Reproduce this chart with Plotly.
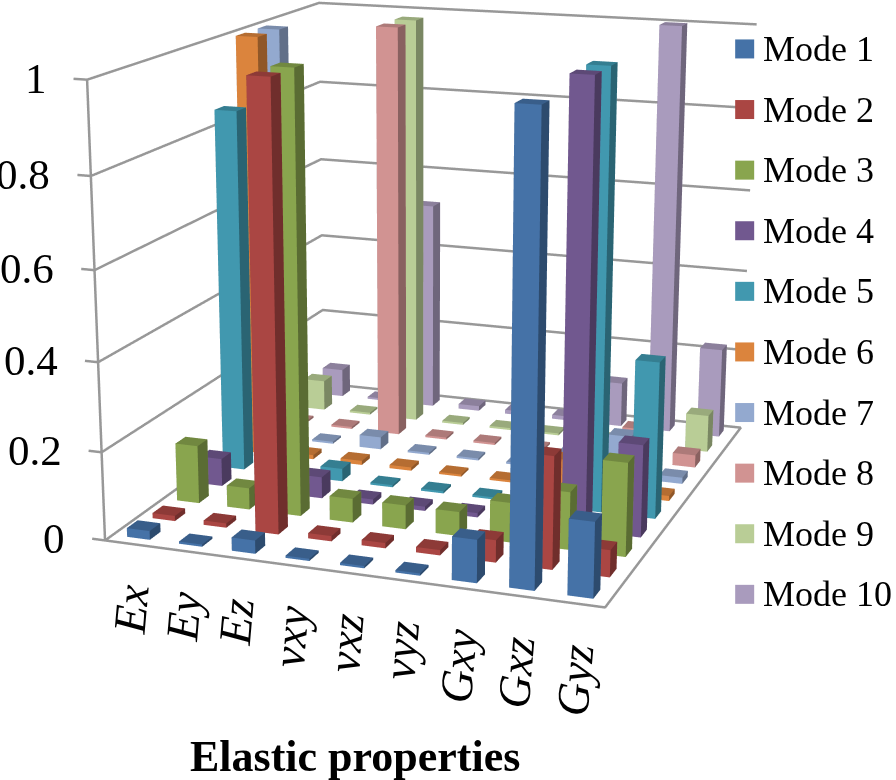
import plotly.graph_objects as go

categories = ["Ex", "Ey", "Ez", "νxy", "νxz", "νyz", "Gxy", "Gxz", "Gyz"]
z_ticks = [0, 0.2, 0.4, 0.6, 0.8, 1]
z_labels = ["0", "0.2", "0.4", "0.6", "0.8", "1"]
modes = ["Mode %d" % i for i in range(1, 11)]
colors = ["#4572A7", "#AA4643", "#89A54E", "#71588F", "#4198AF", "#DB843D", "#93A9CF", "#D19392", "#B9CD96", "#A99BBD"]
mode1 = [.02, .005, .03, .005, .005, .005, .095, 1.0, .165]
mode2 = [.012, .01, 1.0, .012, .012, .012, .05, .25, .06]
mode3 = [.135, .05, 1.0, .055, .055, .055, .09, .13, .21]
mode4 = [.065, .01, .05, .012, .01, .01, .03, 1.0, .21]
mode5 = [.85, .01, .03, .005, .005, .005, .01, 1.0, .36]
mode6 = [1.0, .01, .01, .008, .005, .005, .07, .02, .012]
mode7 = [1.0, .005, .03, .005, .005, .005, .04, .1, .015]
mode8 = [.005, .005, 1.0, .005, .005, .005, .01, .08, .03]
mode9 = [.075, .005, 1.0, .005, .005, .005, .005, .01, .09]
mode10 = [.07, .005, .52, .012, .01, .01, .11, 1.0, .22]
values = [mode1, mode2, mode3, mode4, mode5, mode6, mode7, mode8, mode9, mode10]

ASPECT = (0.955, 1.068, 0.856)
EYE = (1.460, -4.179, 1.106)
CENTER = (0.007, -0.171, -0.113)
PRINCIPAL = (418.821, 350.063)
S = 1954
LEFT, TOP = S/2 - PRINCIPAL[0], S/2 - PRINCIPAL[1]
def xp(v): return (v + LEFT)/S
def yp(v): return 1 - (v + TOP)/S

bar_x, bar_y = 0.44, 0.42
def shade(hex_color, k):
    r, g, b = [int(hex_color[i:i+2], 16) for i in (1, 3, 5)]
    return "rgb(%d,%d,%d)" % (r*k, g*k, b*k)

fig = go.Figure()
faces = [((0,1,5),1.0),((0,5,4),1.0),((1,2,6),.66),((1,6,5),.66),((4,5,6),.83),((4,6,7),.83),((3,0,4),.8),((3,4,7),.8),((2,3,7),.8),((2,7,6),.8)]
for m, (name, col, vals) in enumerate(zip(modes, colors, values)):
    X, Y, Z, I, J, K, FC = [], [], [], [], [], [], []
    for c, v in enumerate(vals):
        x0, x1 = c+.5-bar_x/2, c+.5+bar_x/2
        y0, y1 = m+.5-bar_y/2, m+.5+bar_y/2
        n0 = len(X)
        X += [x0, x1, x1, x0, x0, x1, x1, x0]
        Y += [y0, y0, y1, y1, y0, y0, y1, y1]
        Z += [0, 0, 0, 0, v, v, v, v]
        for (a,b,d),k in faces:
            I.append(n0+a); J.append(n0+b); K.append(n0+d); FC.append(shade(col,k))
    fig.add_trace(go.Mesh3d(x=X,y=Y,z=Z,i=I,j=J,k=K,facecolor=FC,flatshading=True,name=name,showlegend=False,
        lighting=dict(ambient=1,diffuse=0,specular=0,fresnel=0,roughness=1),hoverinfo="skip"))

nx, ny = len(categories), len(modes)
lx, ly, lz = [], [], []
for t in z_ticks:
    lx += [-.25, 0, 0, nx, None]; ly += [0, 0, ny, ny, None]; lz += [t, t, t, t, None]
lx += [0, 0, None, 0, nx, nx, 0, 0]; ly += [0, 0, None, 0, 0, ny, ny, 0]; lz += [0, 1, None, 0, 0, 0, 0, 0]
fig.add_trace(go.Scatter3d(x=lx,y=ly,z=lz,mode="lines",line=dict(color="#989898",width=5),showlegend=False,hoverinfo="skip"))

ax = dict(visible=False, showgrid=False, showbackground=False, zeroline=False, autorange=False)
ann = []
for t, l in zip(z_ticks, z_labels):
    ann.append(dict(x=-.25, y=0, z=t, text=l, showarrow=False, xanchor="right", yanchor="middle", xshift=-25, font=dict(family="Liberation Serif", size=43, color="black")))
for i, c in enumerate(categories):
    ann.append(dict(x=i+.5, y=0, z=0, text="<i>%s</i>" % c, showarrow=False, textangle=-85, xanchor="center", yanchor="top", yshift=-36, font=dict(family="Liberation Serif", size=46, color="black")))

shapes, pann = [], []
for i, (name, col) in enumerate(zip(modes, colors)):
    yc = 49 + 60.6*i
    shapes.append(dict(type="rect", xref="paper", yref="paper", x0=xp(735), x1=xp(754), y0=yp(yc-9.5), y1=yp(yc+9.5), fillcolor=col, line=dict(width=0)))
    pann.append(dict(x=xp(761), y=yp(yc), xref="paper", yref="paper", xanchor="left", yanchor="middle", text=name, showarrow=False, font=dict(family="Liberation Serif", size=36, color="black")))
pann.append(dict(x=xp(355), y=yp(757), xref="paper", yref="paper", xanchor="center", yanchor="middle", text="<b>Elastic properties</b>", showarrow=False, font=dict(family="Liberation Serif", size=44, color="black")))

spans = (nx, ny, 1)
ranges = ((-.3, nx+.1), (-.1, ny+.1), (-.02, 1.02))
offs = [((r[0]+r[1])/2 - d/2)/d*a for r, d, a in zip(ranges, spans, ASPECT)]
asp = [a*(r[1]-r[0])/d for r, d, a in zip(ranges, spans, ASPECT)]
fig.update_layout(
    width=S, height=S, margin=dict(l=0,r=0,t=0,b=0), paper_bgcolor="white", showlegend=False,
    scene=dict(domain=dict(x=[0,1],y=[0,1]),
        xaxis=dict(ax, range=list(ranges[0])), yaxis=dict(ax, range=list(ranges[1])), zaxis=dict(ax, range=list(ranges[2])),
        aspectmode="manual", aspectratio=dict(x=asp[0],y=asp[1],z=asp[2]),
        camera=dict(eye=dict(x=EYE[0]-offs[0],y=EYE[1]-offs[1],z=EYE[2]-offs[2]),center=dict(x=CENTER[0]-offs[0],y=CENTER[1]-offs[1],z=CENTER[2]-offs[2]),up=dict(x=0,y=0,z=1),projection=dict(type="perspective")),
        annotations=ann),
    shapes=shapes, annotations=pann,
)
post = ("var g=document.getElementsByClassName('plotly-graph-div')[0];g.style.position='absolute';"
        "g.style.left='%dpx';g.style.top='%dpx';document.body.style.overflow='hidden';document.documentElement.style.overflow='hidden';" % (-round(LEFT), -round(TOP)))
fig.write_html("out.html", post_script=post)
